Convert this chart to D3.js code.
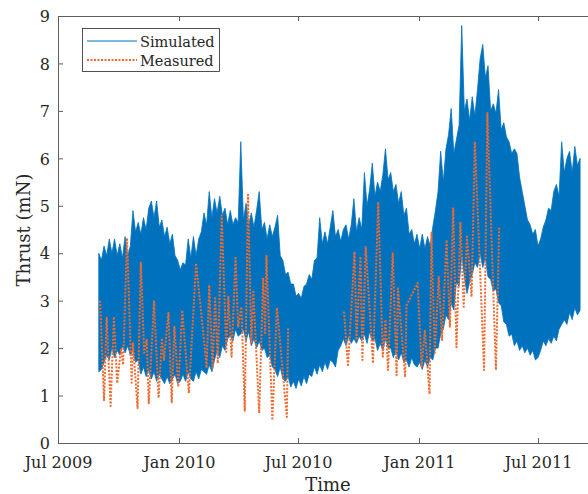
<!DOCTYPE html>
<html>
<head>
<meta charset="utf-8">
<script src="https://cdn.jsdelivr.net/npm/d3@7"></script>
<style>
  body { margin: 0; background: #fff; }
  svg { display: block; }
</style>
</head>
<body>
<svg id="chart" width="588" height="494"></svg>
<script>
// ---- axis ticks ----
const xTickDates = ["2009-07-01", "2010-01-01", "2010-07-01", "2011-01-01", "2011-07-01"];
const xTickLabels = ["Jul 2009", "Jan 2010", "Jul 2010", "Jan 2011", "Jul 2011"];
const yTicks = [0, 1, 2, 3, 4, 5, 6, 7, 8, 9];

// ---- simulated thrust (mN): daily-cycle band, max / min every 4 days from 1 Sep 2009 ----
const simStart = "2009-09-01";
const simStepDays = 4;
const simHigh = [
  4.0, 3.85, 4.15, 3.95, 4.3, 4.0, 4.3, 3.95, 4.2, 3.9,
  4.35, 3.95, 4.15, 4.9, 4.45, 4.65, 4.4, 4.75, 4.5, 4.95,
  5.1, 4.75, 5.1, 4.55, 4.7, 4.35, 4.55, 4.2, 4.4, 3.95,
  3.85, 3.65, 3.8, 3.75, 4.3, 3.9, 4.35, 3.95, 4.3, 4.45,
  4.85, 4.6, 5.3, 4.75, 5.15, 4.85, 5.2, 4.8, 4.95, 4.6,
  4.9, 4.6, 4.75, 4.65, 6.35, 4.7, 5.05, 4.6, 4.85, 4.55,
  4.9, 5.3, 4.5, 4.65, 4.3, 4.6, 4.35, 4.55, 4.8, 3.95,
  3.85, 3.55, 3.6, 3.35, 3.35, 3.1, 3.15, 3.05, 3.3, 3.35,
  3.55, 3.45, 3.85, 3.9, 4.75, 4.2, 4.45, 4.2, 4.55, 4.9,
  4.35, 4.5, 4.25, 4.5, 4.6, 4.3, 4.6, 5.15, 4.45, 4.75,
  4.5, 5.7, 5.0, 5.35, 5.9, 5.2, 5.5, 5.3, 5.65, 6.2,
  5.55, 5.7, 5.3, 5.45, 5.05, 5.3, 4.8, 4.95, 4.4, 4.5,
  4.2, 4.4, 4.1, 4.4, 4.1, 4.35, 4.15, 4.55, 4.9, 5.3,
  6.15, 5.5, 6.2, 6.5, 7.05, 6.1, 6.4, 6.7, 8.8, 7.0,
  7.25, 6.8, 7.3, 6.9, 7.45, 8.1, 8.4, 7.7, 7.95, 7.0,
  7.15, 6.95, 7.45, 6.6, 6.75, 6.45, 6.35, 6.1, 6.2, 6.1,
  5.6, 5.3, 5.0, 4.7, 4.6, 4.4, 4.5, 4.15, 4.3, 4.55,
  4.7, 4.95, 4.9, 5.3, 5.45, 5.2, 6.35, 5.7, 6.0, 6.15,
  5.7, 6.25, 5.85, 6.0
];
const simLow = [
  1.5, 1.55, 1.7, 1.85, 1.75, 2.0, 1.8, 1.95, 1.85, 2.05,
  1.9, 2.05, 1.85, 1.95, 1.7, 1.75, 1.45, 1.6, 1.4, 1.55,
  1.35, 1.5, 1.3, 1.45, 1.35, 1.25, 1.4, 1.25, 1.35, 1.45,
  1.25, 1.3, 1.45, 1.3, 1.5, 1.35, 1.3, 1.5, 1.35, 1.55,
  1.5, 1.45, 1.65, 1.5, 1.75, 1.95, 1.8, 2.05, 1.95, 2.2,
  2.25, 2.15, 2.4, 2.25, 2.3, 2.4, 2.15, 2.35, 2.05, 2.2,
  2.0, 2.15, 1.95, 2.0, 1.8, 1.85, 1.6, 1.55, 1.4, 1.6,
  1.35, 1.3, 1.4, 1.18, 1.3, 1.15, 1.35, 1.2, 1.4, 1.25,
  1.45, 1.4, 1.6, 1.45, 1.65, 1.5, 1.7, 1.55, 1.75, 1.7,
  1.6, 1.95, 2.05, 2.2, 2.05, 2.25, 2.1, 2.2, 2.1, 2.25,
  2.15, 2.3, 2.1, 2.35, 2.15, 2.2, 1.95, 2.1, 1.95, 2.2,
  2.0, 2.0, 1.8, 1.95, 1.75, 1.9, 1.7, 1.75, 1.6, 1.8,
  1.65, 1.6, 1.7, 1.55, 1.75, 1.6, 1.8, 1.75, 2.0, 2.0,
  2.3, 2.4, 2.7, 2.6, 2.95, 2.8, 3.4, 3.3, 4.0, 3.5,
  3.15, 3.4, 3.55, 3.8, 3.7, 4.0, 3.7, 3.9, 3.5, 3.45,
  3.2, 3.25, 2.95, 2.9, 2.55, 2.5, 2.25, 2.3, 2.05, 2.15,
  1.95, 2.05, 1.9, 2.0, 1.85, 1.95, 1.75, 1.8, 1.95, 2.15,
  2.05, 2.2, 2.1, 2.25, 2.15, 2.4, 2.5, 2.6, 2.5, 2.75,
  2.6, 2.85, 2.7, 2.8
];

// ---- measured thrust (mN); null marks the summer 2010 data gap ----
const measuredDates = [
  "2009-09-03", "2009-09-09", "2009-09-13", "2009-09-19", "2009-09-24", "2009-09-29",
  "2009-10-05", "2009-10-08", "2009-10-14", "2009-10-21", "2009-10-23", "2009-10-30",
  "2009-11-04", "2009-11-09", "2009-11-13", "2009-11-16", "2009-11-24", "2009-12-01",
  "2009-12-06", "2009-12-09", "2009-12-16", "2009-12-21", "2009-12-25", "2009-12-31",
  "2010-01-06", "2010-01-16", "2010-01-27", "2010-02-10", "2010-02-12", "2010-02-16",
  "2010-02-21", "2010-02-25", "2010-03-01", "2010-03-07", "2010-03-14", "2010-03-17",
  "2010-03-22", "2010-03-28", "2010-04-01", "2010-04-06", "2010-04-11", "2010-04-16",
  "2010-04-21", "2010-04-24", "2010-05-03", "2010-05-09", "2010-05-12", "2010-05-14",
  "2010-05-23", "2010-05-30", "2010-06-14", "2010-06-16",
  "2010-08-01",
  "2010-09-09", "2010-09-15", "2010-09-25", "2010-09-28", "2010-10-04", "2010-10-07",
  "2010-10-12", "2010-10-23", "2010-10-31", "2010-11-07", "2010-11-11", "2010-11-15",
  "2010-11-22", "2010-11-28", "2010-11-30", "2010-12-11", "2010-12-13", "2010-12-30",
  "2011-01-05", "2011-01-10", "2011-01-17", "2011-01-20", "2011-01-25", "2011-01-31",
  "2011-02-05", "2011-02-12", "2011-02-17", "2011-02-22", "2011-02-27", "2011-03-05",
  "2011-03-10", "2011-03-15", "2011-03-22", "2011-03-27", "2011-04-10", "2011-04-15",
  "2011-04-28", "2011-05-03"
];
const measuredValues = [
  3.0, 0.9, 2.64, 0.78, 2.66, 1.26,
  2.0, 1.65, 4.32, 1.27, 2.1, 0.74,
  3.8, 1.9, 2.17, 0.84, 2.98, 0.95,
  2.21, 1.75, 2.74, 0.86, 2.45, 1.18,
  2.8, 1.05, 3.79, 1.9, 1.58, 3.33,
  1.58, 3.05, 1.68, 4.8, 1.92, 3.08,
  1.82, 3.9, 2.45, 2.87, 0.68, 5.23,
  2.1, 3.22, 0.63, 3.48, 2.32, 3.96,
  0.48, 2.85, 0.55, 2.45,
  null,
  2.77, 1.61, 4.03, 2.17, 3.93, 1.75,
  4.13, 1.68, 5.08, 1.82, 2.6, 1.54,
  4.0, 1.43, 3.26, 1.39, 2.9, 3.37,
  1.61, 2.38, 1.03, 4.43, 1.9, 3.5,
  2.17, 4.28, 2.45, 4.95, 2.02, 4.66,
  2.87, 4.35, 3.08, 6.35, 1.54, 6.95,
  1.54, 4.55
];

const seriesNames = ["Simulated", "Measured"];
const xLabel = "Time";
const yLabel = "Thrust (mN)";

// ---- drawing ----
const parse = d3.utcParse("%Y-%m-%d");
const FONT = "'DejaVu Serif', 'Liberation Serif', serif";
const INK = "#262626";
const AXIS = "#5e5e5e";
const BLUE = "#0072BD";
const ORANGE = "#F2692D";

const plotLeft = 58, plotTop = 16, plotBottom = 443, plotRight = 600;

const x = d3.scaleUtc()
  .domain([parse("2009-07-01"), parse("2011-07-01")])
  .range([plotLeft, 538]);
const y = d3.scaleLinear().domain([0, 9]).range([plotBottom, plotTop]);

const svg = d3.select("#chart");

// plot-area clip
svg.append("clipPath").attr("id", "plotClip")
  .append("rect").attr("x", plotLeft).attr("y", plotTop)
  .attr("width", plotRight - plotLeft).attr("height", plotBottom - plotTop);

const plot = svg.append("g").attr("clip-path", "url(#plotClip)");

// simulated band
const simData = simHigh.map((h, i) => ({
  date: d3.utcDay.offset(parse(simStart), i * simStepDays),
  hi: h,
  lo: simLow[i]
}));
const band = d3.area()
  .x(d => x(d.date))
  .y0(d => y(d.lo))
  .y1(d => y(d.hi));
plot.append("path")
  .datum(simData)
  .attr("d", band)
  .attr("fill", BLUE)
  .attr("stroke", BLUE)
  .attr("stroke-width", 0.8)
  .attr("stroke-linejoin", "miter")
  .attr("stroke-miterlimit", 3);

// measured dotted line
const measData = measuredDates.map((d, i) => ({ date: parse(d), v: measuredValues[i] }));
const measLine = d3.line()
  .defined(d => d.v !== null)
  .x(d => x(d.date))
  .y(d => y(d.v));
plot.append("path")
  .datum(measData)
  .attr("d", measLine)
  .attr("fill", "none")
  .attr("stroke", ORANGE)
  .attr("stroke-width", 2)
  .attr("stroke-dasharray", "2,1.5")
  .attr("stroke-linejoin", "round");

// axes
const xDates = xTickDates.map(parse);
const xAxis = d3.axisBottom(x)
  .tickValues(xDates)
  .tickFormat((d, i) => xTickLabels[i])
  .tickSizeInner(-5).tickSizeOuter(0).tickPadding(14);
const gx = svg.append("g").attr("transform", `translate(0,${plotBottom})`).call(xAxis);

const xAxisTop = d3.axisTop(x)
  .tickValues(xDates).tickFormat("")
  .tickSizeInner(-5).tickSizeOuter(0);
const gxt = svg.append("g").attr("transform", `translate(0,${plotTop})`).call(xAxisTop);

const yAxis = d3.axisLeft(y)
  .tickValues(yTicks)
  .tickFormat(d3.format("d"))
  .tickSizeInner(-5).tickSizeOuter(0).tickPadding(8);
const gy = svg.append("g").attr("transform", `translate(${plotLeft},0)`).call(yAxis);

[gx, gxt, gy].forEach(g => {
  g.select(".domain").remove();
  g.selectAll(".tick line").attr("stroke", AXIS).attr("stroke-width", 1);
  g.selectAll(".tick text")
    .attr("fill", INK)
    .style("font-family", FONT)
    .style("font-size", "16px");
});
gy.selectAll(".tick text").attr("dy", "0.36em");

// axis box lines
const boxPath = d3.path();
boxPath.moveTo(plotRight, plotTop + 0.5); boxPath.lineTo(plotLeft + 0.5, plotTop + 0.5);
boxPath.lineTo(plotLeft + 0.5, plotBottom + 0.5); boxPath.lineTo(plotRight, plotBottom + 0.5);
svg.append("path")
  .attr("d", boxPath.toString())
  .attr("fill", "none")
  .attr("stroke", AXIS)
  .attr("stroke-width", 1);

// axis labels
svg.append("text")
  .attr("x", 328).attr("y", 491)
  .attr("text-anchor", "middle")
  .attr("fill", INK)
  .style("font-family", FONT).style("font-size", "18px")
  .text(xLabel);

svg.append("text")
  .attr("transform", "translate(30,230) rotate(-90)")
  .attr("text-anchor", "middle")
  .attr("fill", INK)
  .style("font-family", FONT).style("font-size", "18px")
  .text(yLabel);

// legend
const legend = svg.append("g");
legend.append("rect")
  .attr("x", 82.5).attr("y", 28.5).attr("width", 137).attr("height", 43)
  .attr("fill", "#fff").attr("stroke", INK).attr("stroke-width", 0.8);

const legendRows = [
  { name: seriesNames[0], color: BLUE, dash: null, width: 1, yy: 41 },
  { name: seriesNames[1], color: ORANGE, dash: "2,1.5", width: 2, yy: 60 }
];
legendRows.forEach(r => {
  legend.append("line")
    .attr("x1", 87).attr("x2", 137).attr("y1", r.yy).attr("y2", r.yy)
    .attr("stroke", r.color).attr("stroke-width", r.width)
    .attr("stroke-dasharray", r.dash);
  legend.append("text")
    .attr("x", 140).attr("y", r.yy + 5.5)
    .attr("fill", INK)
    .style("font-family", FONT).style("font-size", "14.5px")
    .text(r.name);
});
</script>
</body>
</html>
